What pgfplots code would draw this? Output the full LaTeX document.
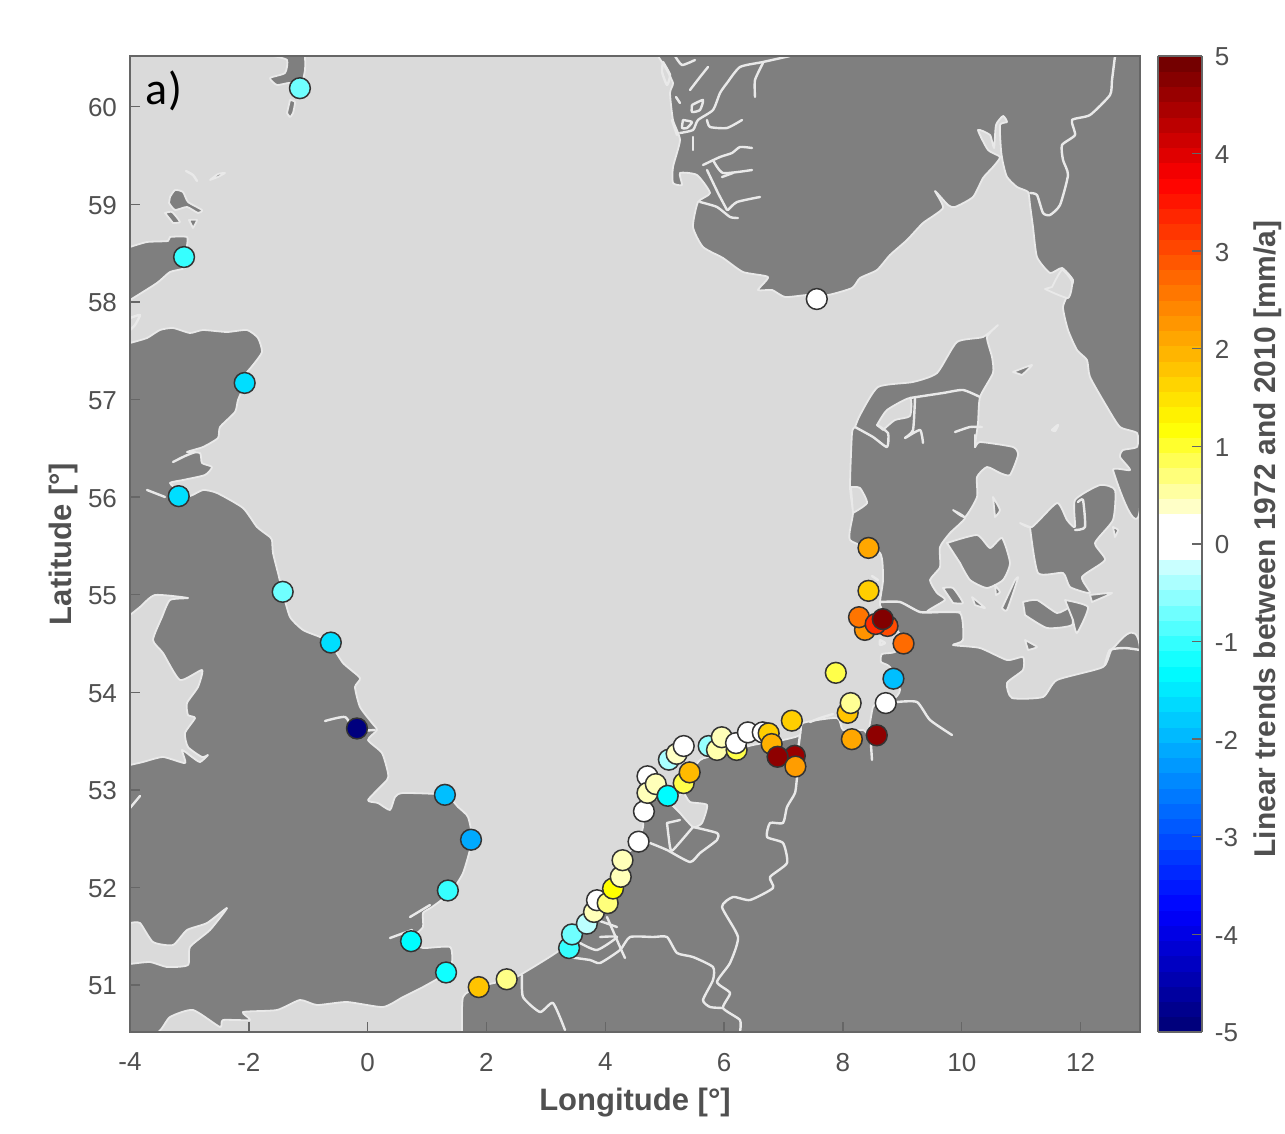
\documentclass[border=0pt]{standalone}
\usepackage{fontspec}
\setmainfont{Liberation Sans}
\newfontfamily\carl{Carlito}
\usepackage{pgfplots}
\pgfplotsset{compat=1.18}
\definecolor{sea}{HTML}{DADADA}
\definecolor{landc}{HTML}{7F7F7F}
\definecolor{coast}{HTML}{E9E9E9}
\definecolor{framec}{HTML}{666666}
\definecolor{txt}{HTML}{505050}
\pgfplotsset{
 land/.style={fill=landc,draw=coast,line width=0.9pt,line join=round,smooth,tension=0.35},
 water/.style={fill=sea,draw=coast,line width=0.9pt,line join=round,smooth,tension=0.35},
 river/.style={draw=coast,line width=1.2pt,line join=round,line cap=round,smooth,tension=0.35},
}
\begin{document}
\begin{tikzpicture}
\useasboundingbox (0,0) rectangle (642.5pt,567pt);
% ---------- map backdrop, in the picture's own grid ----------
\begin{axis}[at={(65pt,51pt)},anchor=south west,scale only axis,width=505pt,height=488pt,
  xmin=130,xmax=1140,ymin=56,ymax=1032,y dir=reverse,hide axis]
\addplot[fill=sea,draw=none] coordinates {(130,56)(1140,56)(1140,1032)(130,1032)} --cycle;
% Britain
\addplot[land] coordinates {(130,343)(147,338)(160,330)(173,328)(190,333)(203,330)(227,332)(247,330)(258,338)(262,352)(253,365)(245,375)(245,383)(238,400)(235,412)(220,427)(218,438)(203,447)(187,452)(200,453)(202,463)(212,467)(205,475)(183,480)(170,483)(180,492)(190,496)(203,490)(217,493)(243,508)(257,527)(270,537)(272,540)(273,553)(278,573)(283,593)(290,617)(303,630)(320,637)(330,643)(343,663)(360,678)(355,687)(360,707)(372,723)(377,730)(368,740)(382,753)(388,773)(387,780)(368,800)(378,803)(390,810)(395,797)(403,793)(445,795)(458,807)(468,817)(472,840)(463,873)(450,893)(432,907)(423,913)(423,927)(415,935)(412,942)(423,948)(450,947)(452,963)(447,973)(423,987)(403,997)(383,1007)(347,1002)(317,1005)(300,1000)(277,1010)(243,1012)(250,1020)(223,1020)(220,1027)(193,1010)(170,1017)(158,1032)(130,1032)} --cycle;
\addplot[land] coordinates {(130,247)(147,242)(168,241)(170,237)(187,237)(187,247)(190,258)(185,268)(170,272)(157,283)(130,300)} --cycle;
\addplot[water] coordinates {(130,615)(140,607)(155,595)(188,598)(170,600)(162,617)(153,640)(163,653)(180,680)(202,670)(198,687)(187,703)(188,715)(195,718)(185,733)(188,747)(202,757)(208,755)(200,762)(192,757)(182,750)(185,763)(163,757)(143,762)(130,765)} --cycle;
\addplot[water] coordinates {(130,923)(140,923)(153,942)(173,945)(187,930)(207,923)(227,908)(210,930)(190,947)(188,965)(167,967)(150,962)(130,964)} --cycle;
\addplot[river] coordinates {(173,462)(185,456)(195,452)};
\addplot[river] coordinates {(147,490)(165,497)};
\addplot[river] coordinates {(325,721)(345,717)(355,730)(375,730)};
\addplot[river] coordinates {(410,917)(425,908)(430,905)};
\addplot[river] coordinates {(390,938)(412,930)};
\addplot[river] coordinates {(130,808)(140,796)};
\addplot[river] coordinates {(130,318)(140,315)(135,325)(130,330)};
% Shetland, Orkney
\addplot[land] coordinates {(273,56)(287,60)(285,73)(270,78)(277,85)(290,83)(300,90)(305,70)(305,56)} --cycle;
\addplot[land] coordinates {(290,100)(295,102)(293,113)(290,117)(287,113)} --cycle;
\addplot[land] coordinates {(170,197)(175,190)(183,192)(188,202)(202,210)(198,213)(187,207)(175,210)(169,203)} --cycle;
\addplot[land] coordinates {(165,213)(172,212)(180,222)(173,223)} --cycle;
\addplot[land] coordinates {(189,220)(197,220)(193,228)} --cycle;
\addplot[river] coordinates {(186,171)(193,175)(197,181)};
\addplot[land] coordinates {(210,180)(218,174)(225,173)(218,177)} --cycle;
% Norway and Sweden
\addplot[land] coordinates {(658,56)(665,67)(673,83)(670,93)(673,120)(680,140)(673,167)(673,183)(682,185)(680,173)(697,175)(710,193)(698,202)(693,227)(703,247)(723,258)(743,272)(768,277)(758,290)(772,290)(785,297)(807,295)(828,295)(852,288)(860,278)(877,270)(890,255)(907,240)(923,223)(943,208)(935,191)(948,205)(955,207)(973,197)(983,178)(993,167)(1000,157)(988,150)(978,130)(990,135)(994,148)(996,125)(1003,116)(1007,122)(1000,125)(1001,150)(1003,163)(1007,177)(1017,187)(1028,192)(1030,205)(1033,227)(1037,257)(1050,273)(1062,268)(1073,280)(1070,290)(1063,307)(1068,330)(1077,350)(1087,360)(1090,377)(1107,407)(1120,427)(1137,433)(1137,447)(1123,450)(1120,457)(1130,470)(1113,470)(1140,507)(1140,56)} --cycle;
\addplot[river] coordinates {(1115,56)(1112,80)(1110,95)(1090,115)(1072,120)(1075,135)(1062,145)(1063,160)(1068,175)(1060,205)(1050,215)(1043,213)(1037,195)(1030,193)};
\addplot[river] coordinates {(790,56)(763,62)(740,67)(727,83)(720,93)(713,110)(698,120)(693,130)(680,133)};
\addplot[river] coordinates {(763,63)(755,80)(755,97)};
\addplot[river] coordinates {(708,67)(700,77)(690,90)};
\addplot[river] coordinates {(707,120)(710,127)(727,128)(742,120)};
\addplot[river] coordinates {(693,137)(693,150)};
\addplot[river] coordinates {(703,165)(720,157)(732,153)(740,147)(752,148)};
\addplot[river] coordinates {(713,160)(723,173)(752,170)};
\addplot[river] coordinates {(722,177)(733,173)};
\addplot[river] coordinates {(700,202)(717,207)(730,217)(738,218)};
\addplot[river] coordinates {(728,210)(737,202)(760,197)};
\addplot[river] coordinates {(707,170)(718,193)(727,210)};
\addplot[river] coordinates {(663,62)(670,75)(667,85)(662,72)(663,62)};
\addplot[river] coordinates {(675,56)(682,65)(695,60)};
\addplot[river] coordinates {(683,120)(692,122)(687,128)(682,128)(683,120)};
\addplot[river] coordinates {(692,105)(703,100)(700,110)(692,112)(692,105)};
\addplot[river] coordinates {(672,120)(677,135)};
\addplot[river] coordinates {(676,97)(680,103)};
\addplot[water] coordinates {(1052,287)(1062,270)(1072,282)(1068,298)(1045,289)} --cycle;
% Continent
\addplot[land] coordinates {(462,1032)(463,997)(478,987)(507,980)(520,975)(560,950)(587,923)(603,900)(623,860)(638,842)(643,827)(644,812)(653,800)(665,796)(680,790)(687,780)(700,760)(717,755)(753,745)(783,740)(800,735)(803,723)(837,718)(843,730)(863,730)(868,733)(873,707)(880,703)(893,700)(900,690)(890,667)(881,662)(882,654)(895,652)(903,640)(890,620)(880,605)(883,580)(880,553)(850,540)(853,513)(850,487)(852,433)(855,427)(860,415)(878,387)(913,382)(937,373)(957,342)(983,337)(998,325)(987,337)(992,357)(993,373)(980,397)(978,423)(975,447)(980,442)(1013,447)(1018,455)(1010,475)(1000,473)(987,467)(977,477)(977,497)(965,517)(953,510)(965,518)(950,533)(940,547)(940,567)(930,580)(937,593)(945,600)(927,612)(960,613)(963,640)(953,645)(980,648)(1007,660)(1023,657)(1023,670)(1007,683)(1012,698)(1043,697)(1057,680)(1103,667)(1113,648)(1140,650)(1140,1032)} --cycle;
% Ringkobing, Limfjord
\addplot[water] coordinates {(851,487)(860,488)(867,503)(853,513)} --cycle;
\addplot[water] coordinates {(877,425)(887,410)(910,398)(910,416)(895,420)(883,430)} --cycle;
\addplot[river] coordinates {(855,427)(873,437)(887,447)(888,433)(877,425)};
\addplot[river] coordinates {(910,398)(943,393)(963,390)(980,397)};
\addplot[river] coordinates {(915,398)(913,430)(905,438)(920,430)(923,443)};
\addplot[river] coordinates {(955,432)(970,427)(982,427)};
\addplot[river] coordinates {(975,447)(975,435)};
\addplot[river] coordinates {(872,576)(878,580)};
% Danish islands
\addplot[land] coordinates {(947,543)(977,535)(990,548)(1002,538)(1010,563)(1003,580)(987,588)(970,580)(960,563)} --cycle;
\addplot[land] coordinates {(1020,523)(1032,527)(1057,503)(1067,520)(1075,527)(1075,500)(1100,485)(1115,490)(1113,520)(1095,543)(1105,560)(1082,577)(1090,593)(1070,587)(1063,573)(1038,573)(1030,527)} --cycle;
\addplot[river] coordinates {(1078,502)(1083,500)(1085,527)(1075,530)};
\addplot[land] coordinates {(1023,602)(1037,600)(1057,613)(1070,608)(1072,625)(1047,628)(1025,615)} --cycle;
\addplot[land] coordinates {(1065,600)(1088,607)(1077,633)(1073,620)} --cycle;
\addplot[land] coordinates {(1015,580)(1018,578)(1007,610)(1002,608)} --cycle;
\addplot[land] coordinates {(943,588)(953,588)(963,603)(953,603)} --cycle;
\addplot[land] coordinates {(1025,640)(1037,647)(1028,650)} --cycle;
\addplot[land] coordinates {(993,497)(1000,510)(995,517)} --cycle;
\addplot[land] coordinates {(1013,372)(1032,365)(1022,375)} --cycle;
\addplot[land] coordinates {(1090,595)(1112,593)(1092,602)} --cycle;
\addplot[land] coordinates {(1113,527)(1118,530)(1115,537)} --cycle;
\addplot[land] coordinates {(995,585)(1000,592)(996,595)} --cycle;
\addplot[land] coordinates {(972,597)(985,608)(975,605)} --cycle;
\addplot[river] coordinates {(1052,430)(1058,425)(1055,431)(1052,430)};
% Baltic edge line, Elbe, Weser, Ems
\addplot[river] coordinates {(1105,665)(1110,650)(1125,648)(1140,650)};
\addplot[river] coordinates {(880,602)(900,602)(920,612)(940,612)(960,612)};
\addplot[river] coordinates {(897,702)(917,702)(930,720)(952,735)};
\addplot[river] coordinates {(871,745)(872,760)};
\addplot[river] coordinates {(810,722)(820,718)(833,714)};
\addplot[river] coordinates {(800,735)(798,750)};
\addplot[river] coordinates {(880,640)(885,643)(880,645)(880,640)};
% IJsselmeer
\addplot[water] coordinates {(670,803)(683,793)(690,802)(707,805)(702,823)(693,827)(680,813)} --cycle;
\addplot[river] coordinates {(693,827)(717,833)(717,840)(700,853)(690,862)(667,850)(650,843)};
\addplot[river] coordinates {(667,823)(670,847)(673,850)(693,827)};
\addplot[river] coordinates {(667,823)(680,820)};
% Borders
\addplot[river] coordinates {(797,777)(795,793)(787,807)(783,823)(770,823)(767,837)(783,843)(787,863)(770,877)(773,888)(750,900)(733,897)(722,907)(738,937)(730,963)(717,982)(730,993)(723,1008)(740,1020)(740,1032)};
\addplot[river] coordinates {(568,957)(590,960)(600,963)(620,950)(630,937)(653,937)(667,937)(677,953)(693,957)(713,967)(713,980)(703,1000)(710,1007)(723,1008)};
\addplot[river] coordinates {(522,975)(523,997)(540,1012)(553,1003)(565,1030)};
\addplot[river] coordinates {(580,943)(597,950)(617,937)(600,937)};
\addplot[river] coordinates {(597,920)(617,927)};
\addplot[river] coordinates {(607,917)(620,947)(625,958)};
\end{axis}
% ---------- data axis ----------
\begin{axis}[at={(65pt,51pt)},anchor=south west,scale only axis,width=505pt,height=488pt,
  xmin=-4,xmax=13,ymin=50.52,ymax=60.52,
  axis line style={color=framec,line width=0.9pt},
  tick style={color=framec,line width=0.7pt},tick align=inside,tickwidth=5pt,
  xtick={-4,-2,0,2,4,6,8,10,12},xticklabels={-4,-2,0,2,4,6,8,10,12},
  ytick={51,52,53,54,55,56,57,58,59,60},yticklabels={51,52,53,54,55,56,57,58,59,60},
  xtick pos=bottom,ytick pos=left,
  tick label style={font=\fontsize{13}{14}\selectfont,text=txt},
  xticklabel style={yshift=-7pt},yticklabel style={xshift=-3pt,yshift=-0.5pt},
  xlabel={\textbf{Longitude [°]}},ylabel={\textbf{Latitude [°]}},
  every axis x label/.style={at={(axis description cs:0.5,0)},anchor=center,yshift=-35.5pt,
    font=\fontsize{15.5}{16}\selectfont,text=txt},
  every axis y label/.style={at={(axis description cs:0,0.5)},rotate=90,anchor=center,yshift=33.5pt,
    font=\fontsize{15.5}{16}\selectfont,text=txt},
  colormap={nsea}{rgb(0cm)=(0,0,0.45);rgb(1.25cm)=(0,0,1);rgb(3.72cm)=(0,1,1);rgb(4.85cm)=(0.85,1,1);rgb(4.86cm)=(1,1,1);rgb(5.31cm)=(1,1,1);rgb(5.32cm)=(1,1,0.85);rgb(6.2cm)=(1,1,0);rgb(7.5cm)=(1,0.5,0);rgb(8.72cm)=(1,0,0);rgb(10cm)=(0.42,0,0)},
  point meta min=-5,point meta max=5,
  colorbar sampled,
  colorbar shift/.style={xshift=8.5pt},
  colorbar style={samples=65,width=22pt,
    ytick={-5,-4,-3,-2,-1,0,1,2,3,4,5},yticklabels={-5,-4,-3,-2,-1,0,1,2,3,4,5},
    axis line style={color=framec,line width=0.8pt},
    tick style={color=framec,line width=0.7pt},tick align=inside,tickwidth=5pt,
    ytick pos=right,yticklabel pos=right,
    yticklabel style={font=\fontsize{13}{14}\selectfont,text=txt,xshift=3pt,yshift=-0.5pt},
    ylabel={\textbf{Linear trends between 1972 and 2010 [mm/a]}},
    every axis y label/.style={at={(axis description cs:1,0.5)},rotate=90,anchor=center,xshift=2.5pt,yshift=-33pt,
      font=\fontsize{15}{16}\selectfont,text=txt},
  },
]
\addplot[scatter,only marks,mark=*,mark size=5.2pt,scatter src=explicit,
  scatter/use mapped color={draw=black!80,fill=mapped color},
  mark options={line width=0.75pt}] table[meta=v] {
x y v
-1.14 60.19 -0.7
-3.09 58.46 -1.0
-2.07 57.17 -1.6
-3.18 56.01 -1.6
-1.43 55.03 -0.7
-0.62 54.51 -1.6
-0.18 53.63 -4.9
1.30 52.95 -1.9
1.74 52.49 -2.1
1.35 51.97 -1.0
0.73 51.45 -1.3
1.32 51.13 -1.2
1.87 50.98 1.8
2.34 51.06 0.65
3.39 51.38 -1.0
3.44 51.52 -0.7
3.69 51.63 -0.3
3.81 51.75 0.45
3.86 51.87 0.0
4.04 51.84 0.7
4.13 51.99 1.2
4.26 52.11 0.45
4.29 52.28 0.45
4.56 52.47 0.0
4.65 52.78 0.0
4.71 53.14 0.0
4.71 52.97 0.45
4.85 53.06 0.45
5.05 52.94 -1.3
5.32 53.07 0.9
5.42 53.18 1.9
5.07 53.31 -0.4
5.20 53.37 0.4
5.32 53.45 0.0
5.74 53.45 -0.5
5.88 53.41 0.5
5.96 53.54 0.45
6.21 53.41 0.9
6.20 53.48 0.0
6.40 53.59 0.0
6.65 53.59 0.0
6.75 53.58 1.7
6.80 53.47 2.0
7.19 53.35 4.6
6.90 53.34 4.7
7.20 53.24 2.2
7.14 53.71 1.7
8.43 55.48 2.1
8.43 55.04 1.7
8.37 54.64 2.3
8.27 54.77 2.6
8.75 54.68 3.0
8.55 54.70 3.3
8.67 54.75 4.8
9.02 54.50 2.7
7.88 54.20 0.9
8.85 54.14 -1.9
8.72 53.89 0.0
8.08 53.79 1.8
8.13 53.89 0.6
8.15 53.52 2.1
8.57 53.56 4.7
7.56 58.03 0.0
};
\node[font=\carl\fontsize{23}{24}\selectfont,text=black,anchor=west] at (axis cs:-3.85,60.16) {a)};
\end{axis}
\end{tikzpicture}
\end{document}
